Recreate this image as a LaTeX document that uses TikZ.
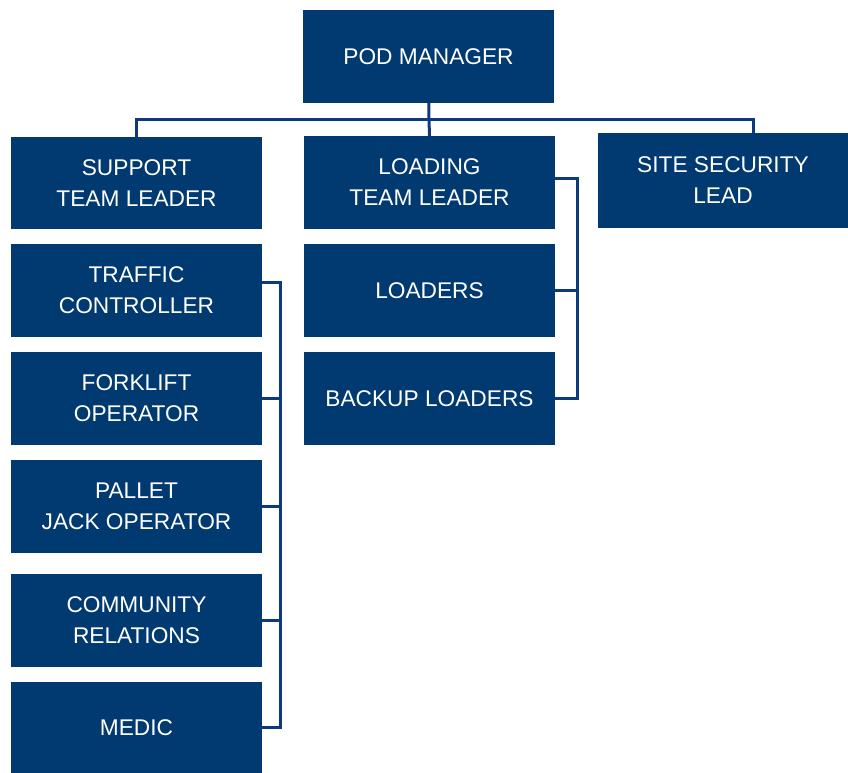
\documentclass[tikz,border=0pt]{standalone}
\usepackage{fontspec}
\setmainfont{Liberation Sans}
\definecolor{podblue}{RGB}{0,58,112}
\definecolor{linkblue}{RGB}{12,58,125}
\tikzset{
  role/.style={rectangle, fill=podblue, text=white, align=center,
    minimum width=251pt, minimum height=93pt, inner sep=0pt,
    font=\fontsize{22.7}{31}\selectfont},
  link/.style={draw=linkblue, line width=3pt}
}
\begin{document}
\begin{tikzpicture}[x=1pt,y=1pt]
      \useasboundingbox (0,0) rectangle (848,-773);
      \draw
        (428.5,-56.5) node[role] (pod){POD MANAGER}
        (136.5,-183) node[role, minimum height=92pt] (support){SUPPORT\\TEAM LEADER}
        (429.5,-182.5) node[role] (loading){LOADING\\TEAM LEADER}
        (723,-180.5) node[role, minimum width=250pt, minimum height=95pt] (security){SITE SECURITY\\LEAD}
        (136.5,-290.5) node[role] (traffic){TRAFFIC\\CONTROLLER}
        (429.5,-290.5) node[role] (loaders){LOADERS}
        (136.5,-398.5) node[role] (forklift){FORKLIFT\\OPERATOR}
        (429.5,-398.5) node[role] (backup){BACKUP LOADERS}
        (136.5,-506.5) node[role] (pallet){PALLET\\JACK OPERATOR}
        (136.5,-620.5) node[role] (community){COMMUNITY\\RELATIONS}
        (136.5,-727.5) node[role, minimum height=91pt] (medic){MEDIC};
      \coordinate (bus) at (429,-120);
      \coordinate (tbus) at (280,-282);
      \coordinate (lbus) at (577,-178);
      \begin{scope}[link]
        \draw (pod) -- (bus);
        \draw (support.north) |- (bus) -| ([xshift=30pt]security.north);
        \draw (bus) -- (loading.north);
        \draw (traffic.east |- tbus) -- (tbus) |- (medic.east);
        \foreach \n in {forklift,pallet,community}
          \draw (\n.east) -- (\n.east -| tbus);
        \draw (loading.east |- lbus) -- (lbus) |- (backup.east);
        \draw (loaders.east) -- (loaders.east -| lbus);
      \end{scope}
    \end{tikzpicture}
\end{document}
